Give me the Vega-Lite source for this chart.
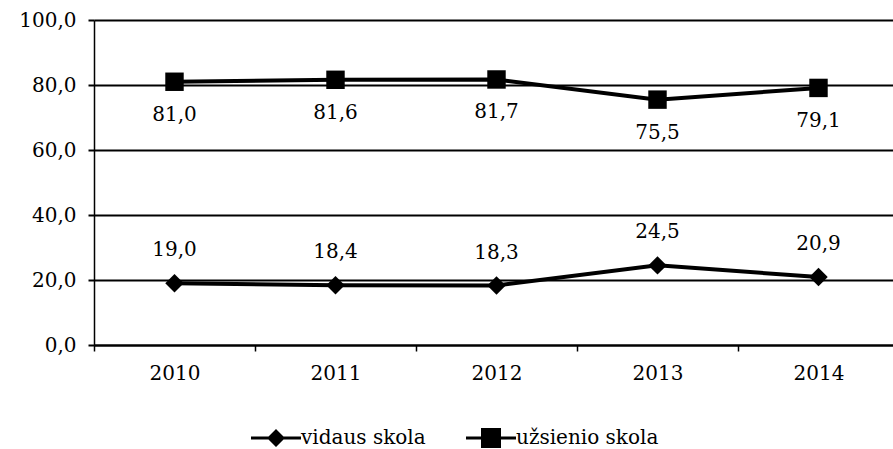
{
  "$schema": "https://vega.github.io/schema/vega-lite/v6.json",
  "width": 805,
  "height": 325,
  "padding": {"left": 18, "top": 10, "right": 0, "bottom": 0},
  "background": "white",
  "config": {
    "locale": {"number": {"decimal": ",", "thousands": " ", "grouping": [3], "currency": ["", " €"]}},
    "view": {"stroke": null},
    "font": "DejaVu Serif",
    "axis": {"labelFont": "DejaVu Serif", "labelFontSize": 20, "labelColor": "#000", "domainColor": "#000", "tickColor": "#000", "gridColor": "#000", "title": null}
  },
  "data": {
    "values": [
      {"year": "2010", "series": "vidaus skola", "value": 19.0},
      {"year": "2011", "series": "vidaus skola", "value": 18.4},
      {"year": "2012", "series": "vidaus skola", "value": 18.3},
      {"year": "2013", "series": "vidaus skola", "value": 24.5},
      {"year": "2014", "series": "vidaus skola", "value": 20.9},
      {"year": "2010", "series": "užsienio skola", "value": 81.0},
      {"year": "2011", "series": "užsienio skola", "value": 81.6},
      {"year": "2012", "series": "užsienio skola", "value": 81.7},
      {"year": "2013", "series": "užsienio skola", "value": 75.5},
      {"year": "2014", "series": "užsienio skola", "value": 79.1}
    ]
  },
  "encoding": {
    "x": {
      "field": "year",
      "type": "ordinal",
      "scale": {"type": "band", "paddingInner": 0, "paddingOuter": 0},
      "bandPosition": 0.5,
      "axis": {"labelAngle": 0, "tickBand": "extent", "tickSize": 6, "tickWidth": 1.5, "domainWidth": 2, "labelPadding": 12, "grid": false}
    },
    "y": {
      "field": "value",
      "type": "quantitative",
      "scale": {"domain": [0, 100], "nice": false},
      "axis": {"values": [0, 20, 40, 60, 80, 100], "format": ".1f", "grid": true, "gridWidth": 2, "tickSize": 6, "tickWidth": 2, "domainWidth": 1.5, "labelPadding": 12}
    }
  },
  "layer": [
    {
      "mark": {"type": "line", "strokeWidth": 4, "color": "black"},
      "encoding": {"detail": {"field": "series"}}
    },
    {
      "transform": [{"filter": "datum.series === 'vidaus skola'"}],
      "mark": {"type": "point", "filled": true, "size": 340, "color": "black", "opacity": 1, "shape": "diamond"}
    },
    {
      "transform": [{"filter": "datum.series === 'užsienio skola'"}],
      "mark": {"type": "point", "filled": true, "size": 340, "color": "black", "opacity": 1, "shape": "square"}
    },
    {
      "transform": [{"filter": "false"}],
      "mark": {"type": "point", "filled": true, "color": "black", "opacity": 1},
      "encoding": {
        "shape": {
          "field": "series",
          "type": "nominal",
          "scale": {
            "domain": ["vidaus skola", "užsienio skola"],
            "range": ["M-2.5,-0.15H2.5V0.15H-2.5Z M0,-0.9L0.9,0L0,0.9L-0.9,0Z", "M-2.5,-0.15H2.5V0.15H-2.5Z M-1,-1H1V1H-1Z"]
          },
          "legend": {
            "orient": "none",
            "legendX": 172,
            "legendY": 408,
            "direction": "horizontal",
            "title": null,
            "labelFont": "DejaVu Serif",
            "labelFontSize": 20,
            "labelColor": "#000",
            "symbolSize": 400,
            "symbolFillColor": "black",
            "symbolStrokeColor": "black",
            "symbolStrokeWidth": 0,
            "symbolOpacity": 1,
            "labelOffset": 15,
            "columnPadding": 40
          }
        }
      }
    },
    {
      "transform": [{"filter": "datum.series === 'vidaus skola'"}],
      "mark": {"type": "text", "font": "DejaVu Serif", "fontSize": 20, "dy": -33, "color": "black"},
      "encoding": {"text": {"field": "value", "type": "quantitative", "format": ".1f"}}
    },
    {
      "transform": [{"filter": "datum.series === 'užsienio skola'"}],
      "mark": {"type": "text", "font": "DejaVu Serif", "fontSize": 20, "dy": 33, "color": "black"},
      "encoding": {"text": {"field": "value", "type": "quantitative", "format": ".1f"}}
    }
  ]
}
